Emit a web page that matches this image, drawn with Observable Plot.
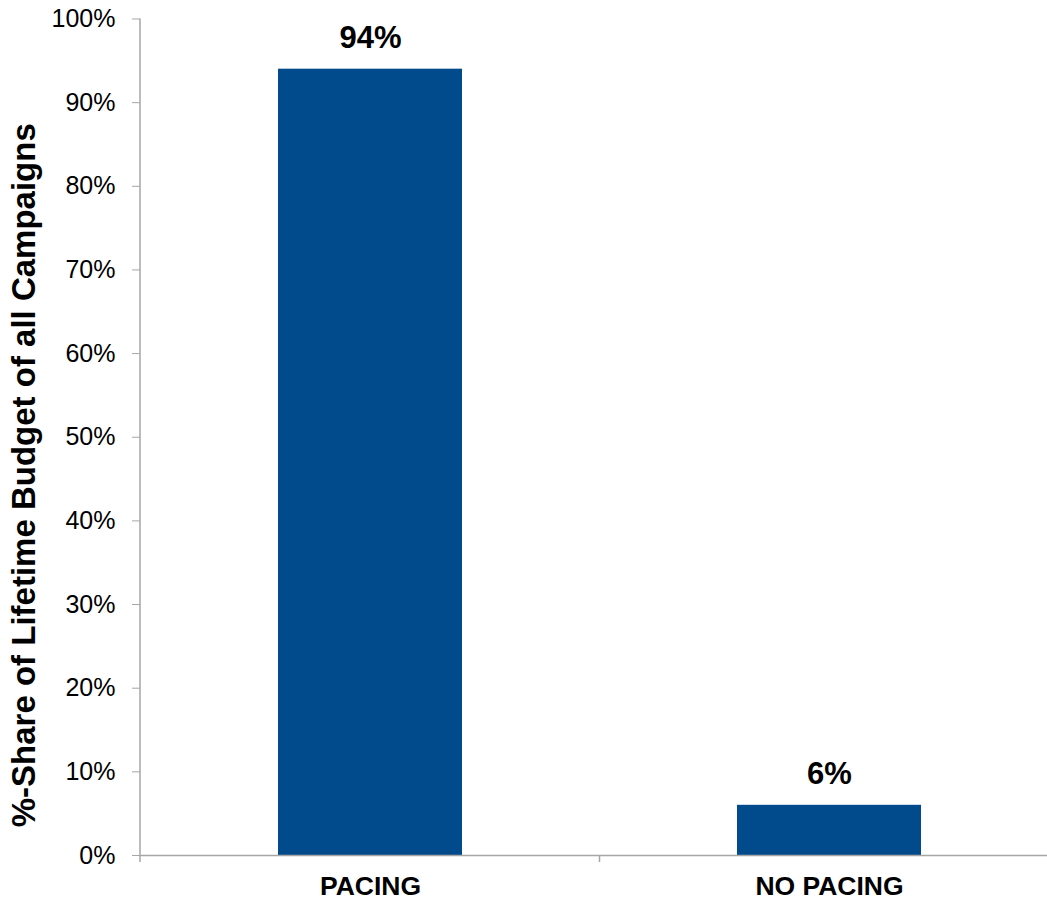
<!DOCTYPE html>
<html><head><meta charset="utf-8">
<script src="https://cdn.jsdelivr.net/npm/d3@7"></script>
<script src="https://cdn.jsdelivr.net/npm/@observablehq/plot@0.6"></script>
<style>body{margin:0;overflow:hidden;background:#fff;font-family:"Liberation Sans",Arial,sans-serif} svg{max-width:none !important;}</style>
</head><body><div id="chart"></div>
<script>
const categories = ["PACING", "NO PACING"];
const values = [94, 6];
const labels = ["94%", "6%"];
const yTicks = [0,10,20,30,40,50,60,70,80,90,100];
const yTitle = "%-Share of Lifetime Budget of all Campaigns";

const data = categories.map((c,i)=>({cat:c, v:values[i], label:labels[i]}));
const axisColor = "#a6a6a6";

function frameLines(index, scales, values, dims) {
  const x = scales.scales.x;
  const svg = d3.create("svg:g");
  const bw = x.bandwidth, st = x.step;
  const y0 = dims.height - dims.marginBottom;
  const left = dims.marginLeft;
  svg.append("line").attr("x1", left).attr("x2", left).attr("y1", dims.marginTop).attr("y2", y0 + 7)
    .attr("stroke", axisColor).attr("stroke-width", 1.5);
  categories.forEach(c => {
    const b = scales.x(c) + bw + (st - bw)/2;
    svg.append("line").attr("x1", b).attr("x2", b).attr("y1", y0).attr("y2", y0 + 7)
      .attr("stroke", axisColor).attr("stroke-width", 1.5);
  });
  return svg.node();
}

const chart = Plot.plot({
  width: 1070, height: 899,
  marginLeft: 140, marginRight: 12, marginTop: 18.5, marginBottom: 44,
  style: {fontFamily: '"Liberation Sans", Arial, sans-serif', background: "white", maxWidth: "none"},
  x: {domain: categories, paddingInner: 0.6, paddingOuter: 0.3},
  y: {domain: [0, 100]},
  marks: [
    Plot.barY(data, {x: "cat", y: "v", fill: "#014a8c"}),
    Plot.ruleY([0], {stroke: axisColor, strokeWidth: 1.5}),
    Plot.axisY({ticks: yTicks, tickSize: 8, tickPadding: 17, stroke: axisColor, fill: "black", fontSize: 25, tickFormat: d => d + "%", label: null}),
    Plot.axisX({tickSize: 0, tickPadding: 21, fontSize: 26.5, fontWeight: "bold", fill: "black", label: null}),
    Plot.text(data, {x: "cat", y: "v", text: "label", dy: -21, lineAnchor: "bottom", fontSize: 31, fontWeight: "bold", fill: "black"}),
    Plot.text([yTitle], {frameAnchor: "left", text: d => d, rotate: -90, textAnchor: "middle", dx: -116, dy: 38, fontSize: 33, fontWeight: "bold", fill: "black"}),
    frameLines
  ]
});
document.getElementById("chart").appendChild(chart);
</script></body></html>
